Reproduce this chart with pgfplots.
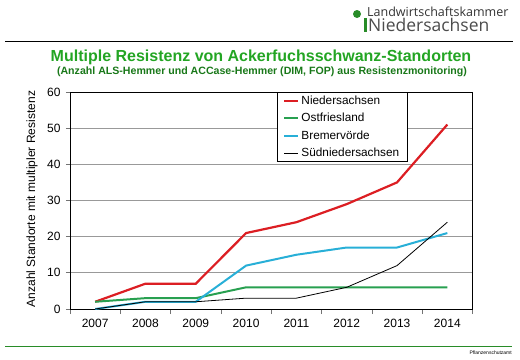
\documentclass[border=0pt]{standalone}
\usepackage{pgfplots}
\pgfplotsset{compat=1.18}
\usepackage{fontspec}
\setmainfont{Liberation Sans}
\newfontfamily\logofont{Open Sans}
\definecolor{cRed}{RGB}{220,30,35}
\definecolor{cGreen}{RGB}{40,160,80}
\definecolor{cCyan}{RGB}{40,175,215}
\definecolor{tGreen}{RGB}{35,165,35}
\definecolor{sGreen}{RGB}{25,120,25}
\definecolor{lGreen}{RGB}{40,140,40}
\begin{document}
\begin{tikzpicture}
\useasboundingbox (0,0) rectangle (520bp,-360bp);
% header
\fill[lGreen] (357bp,-14bp) circle (4bp);
\fill[lGreen] (364bp,-18bp) rectangle (366.5bp,-32bp);
\node[anchor=base west, inner sep=0pt, text=black!80, font=\logofont\fontsize{12.5bp}{14bp}\selectfont] at (367bp,-16.5bp) {Landwirtschaftskammer};
\node[anchor=base west, inner sep=0pt, text=black!70, font=\logofont\fontsize{17.5bp}{20bp}\selectfont] at (368bp,-31.5bp) {Niedersachsen};
\draw[black, line width=1bp] (5bp,-41bp) -- (513bp,-41bp);
\node[inner sep=0pt, text=tGreen, font=\bfseries\fontsize{16bp}{18bp}\selectfont] at (261bp,-57bp) {Multiple Resistenz von Ackerfuchsschwanz-Standorten};
\node[inner sep=0pt, text=sGreen, font=\bfseries\fontsize{10.6bp}{12bp}\selectfont] at (262bp,-72bp) {(Anzahl ALS-Hemmer und ACCase-Hemmer (DIM, FOP) aus Resistenzmonitoring)};
% footer
\draw[lGreen, line width=1bp] (5bp,-346.5bp) -- (512bp,-346.5bp);
\node[anchor=east, inner sep=0pt, font=\fontsize{5bp}{6bp}\selectfont] at (512bp,-353bp) {Pflanzenschutzamt};
% y label
\node[rotate=90, inner sep=0pt, font=\fontsize{12bp}{14bp}\selectfont] at (32bp,-199bp) {Anzahl Standorte mit multipler Resistenz};
\begin{axis}[
  scale only axis,
  width=402.5bp, height=217bp,
  at={(70bp,-309bp)}, anchor=south west,
  xmin=-0.5, xmax=7.5, ymin=0, ymax=60,
  xtick={0,...,7},
  xticklabels={2007,2008,2009,2010,2011,2012,2013,2014},
  major x tick style={draw=none},
  minor xtick={-0.5,0.5,...,7.5},
  ytick={0,10,...,60},
  xtick pos=lower, ytick pos=left,
  tick align=outside,
  major tick length=4bp, minor tick length=5bp,
  tick style={gray!90!black, line width=0.7bp},
  ymajorgrids,
  grid style={gray!80, line width=0.8bp},
  axis line style={black, line width=0.8bp},
  /pgf/number format/assume math mode=true,
  ticklabel style={font=\fontsize{12bp}{14bp}\selectfont},
  xticklabel style={yshift=-3bp},
  yticklabel style={xshift=-2bp},
  legend style={at={(rel axis cs:0.514,1)}, anchor=north west,
    draw=black, line width=0.8bp, font=\fontsize{11.8bp}{13bp}\selectfont,
    row sep=3.3bp, inner xsep=6bp, inner ysep=1.5bp, cells={anchor=west}},
  legend image code/.code={\draw[#1] (0bp,0bp) -- (14bp,0bp);},
]
\addplot[cRed, line width=2.2bp] coordinates {(0,2)(1,7)(2,7)(3,21)(4,24)(5,29)(6,35)(7,51)};
\addlegendentry{Niedersachsen}
\addplot[cGreen, line width=2bp] coordinates {(0,2)(1,3)(2,3)(3,6)(4,6)(5,6)(6,6)(7,6)};
\addlegendentry{Ostfriesland}
\addplot[cCyan, line width=2bp] coordinates {(0,0)(1,2)(2,2)(3,12)(4,15)(5,17)(6,17)(7,21)};
\addlegendentry{Bremervörde}
\addplot[black, line width=0.8bp] coordinates {(0,0)(1,2)(2,2)(3,3)(4,3)(5,6)(6,12)(7,24)};
\addlegendentry{Südniedersachsen}
\end{axis}
\end{tikzpicture}
\end{document}
